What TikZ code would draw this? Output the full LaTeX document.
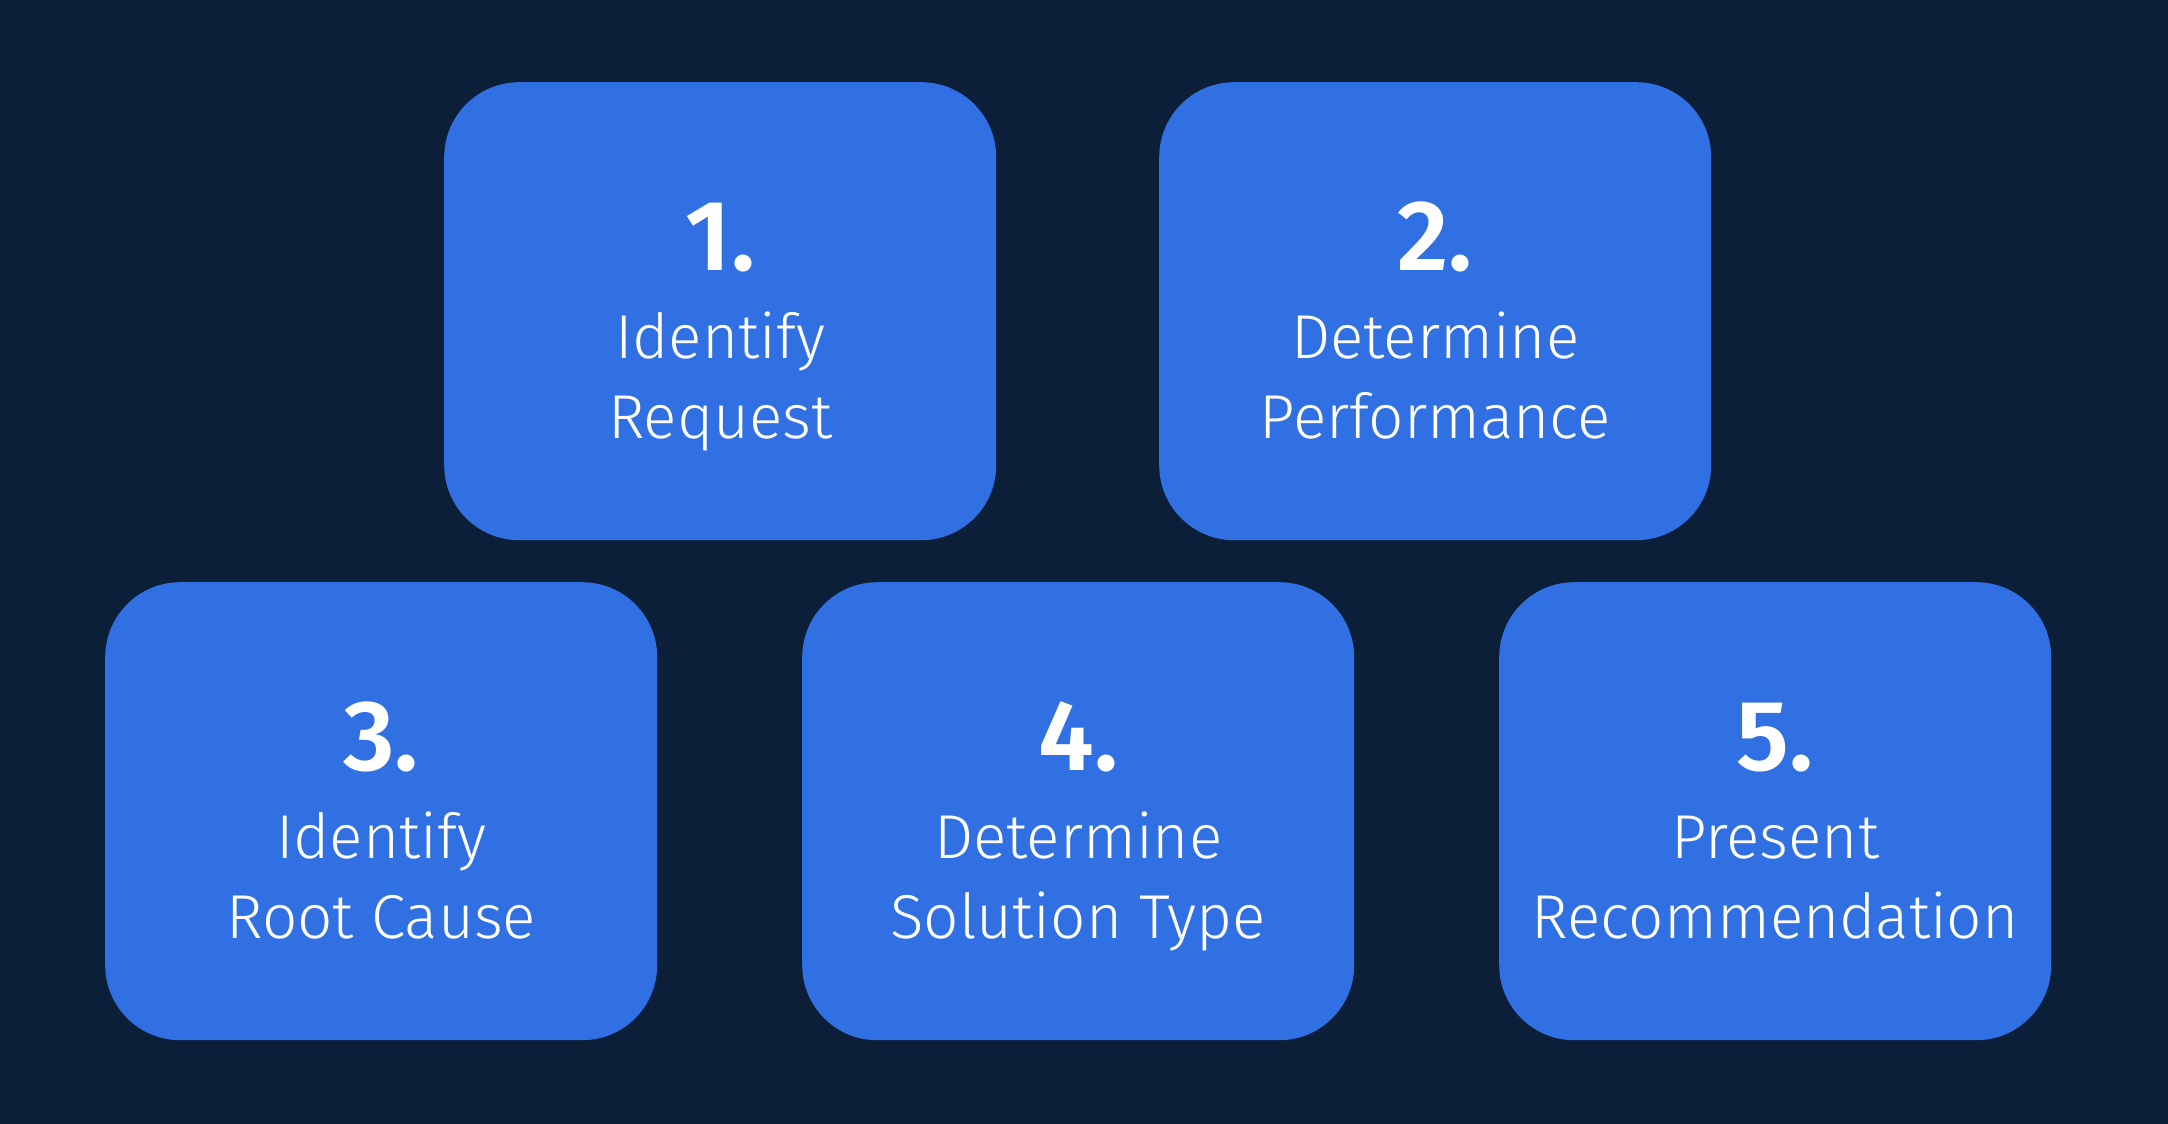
\documentclass[tikz,border=0pt]{standalone}
\usepackage{fontspec}
\usetikzlibrary{calc}
\setmainfont{Fira Sans}[UprightFont=* Light, BoldFont=* SemiBold]
\definecolor{bgnavy}{HTML}{0B1F38}
\definecolor{boxblue}{HTML}{3170E3}
\newcommand{\stepcard}[6]{%
  \node[stepbox] (#1) at (#2,#3) {};
  \node[numtext] (#1n) at ($(#1.north)+(0,188)$) {#4.};
  \node[steptext] (#1a) at ($(#1.north)+(0,276)$) {#5};
  \node[steptext] (#1b) at ($(#1.north)+(0,356)$) {#6};
}
\begin{document}
\begin{tikzpicture}[x=1pt,y=-1pt,
  stepbox/.style={draw=none,fill=boxblue,rounded corners=75pt,minimum width=552pt,minimum height=458pt,inner sep=0pt,anchor=north west},
  numtext/.style={text=white,font=\fontsize{100}{100}\selectfont\bfseries,anchor=base,inner sep=0pt},
  steptext/.style={text=white,font=\fontsize{62}{62}\selectfont,anchor=base,inner sep=0pt}]
\fill[bgnavy] (0,0) rectangle (2168,1124);
\useasboundingbox (0,0) rectangle (2168,1124);
\stepcard{s1}{444}{82}{1}{Identify}{Request}
\stepcard{s2}{1159}{82}{2}{Determine}{Performance}
\stepcard{s3}{105}{582}{3}{Identify}{Root Cause}
\stepcard{s4}{802}{582}{4}{Determine}{Solution Type}
\stepcard{s5}{1499}{582}{5}{Present}{Recommendation}
\end{tikzpicture}
\end{document}
